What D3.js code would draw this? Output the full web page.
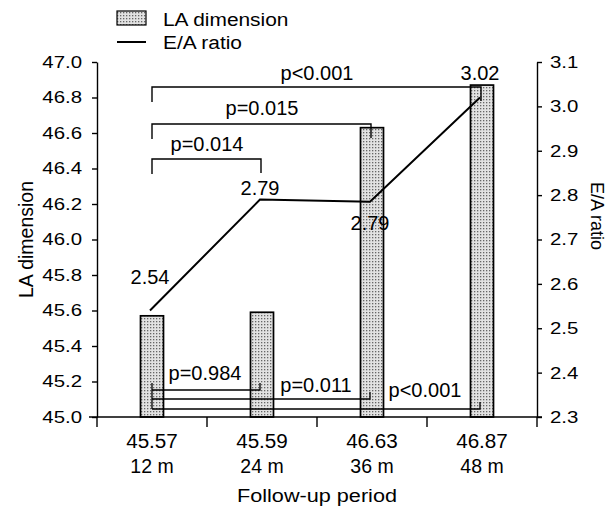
<!DOCTYPE html>
<html>
<head>
<meta charset="utf-8">
<script src="https://cdn.jsdelivr.net/npm/d3@7"></script>
<style>
  body { margin: 0; background: #fff; }
  text { font-family: "Liberation Sans", Arial, sans-serif; fill: #000; }
</style>
</head>
<body>
<svg id="chart" width="608" height="509"></svg>
<script>
// values
var categories = ["12 m", "24 m", "36 m", "48 m"];
var laDimension = [45.57, 45.59, 46.63, 46.87];
var eaRatio = [2.54, 2.79, 2.785, 3.02];
var eaLabels = ["2.54", "2.79", "2.79", "3.02"];
var leftTicks = [45.0, 45.2, 45.4, 45.6, 45.8, 46.0, 46.2, 46.4, 46.6, 46.8, 47.0];
var rightTicks = [2.3, 2.4, 2.5, 2.6, 2.7, 2.8, 2.9, 3.0, 3.1];
var topPairs = [[0, 1, "p=0.014"], [0, 2, "p=0.015"], [0, 3, "p<0.001"]];
var bottomPairs = [[0, 1, "p=0.984"], [0, 2, "p=0.011"], [0, 3, "p<0.001"]];

var svg = d3.select("#chart"),
    xLeft = 97, xRight = 537, yTop = 62, yBot = 417;

var x = d3.scaleBand().domain(categories).range([xLeft, xRight]);
var yL = d3.scaleLinear().domain([45, 47]).range([yBot, yTop]);
var yR = d3.scaleLinear().domain([2.3, 3.1]).range([yBot, yTop]);

// stretch text horizontally, the scan is a bit wide
function stretch(sel, k) {
  sel.each(function() {
    var t = d3.select(this);
    var tx = +t.attr("x") || 0;
    t.attr("x", tx / k).attr("transform", "scale(" + k + ",1)");
  });
}

// stipple pattern for the bars
var defs = svg.append("defs");
var pat = defs.append("pattern")
    .attr("id", "stipple")
    .attr("width", 3).attr("height", 3)
    .attr("patternUnits", "userSpaceOnUse");
pat.append("rect").attr("width", 3).attr("height", 3).attr("fill", "#e2e2e2");
pat.append("rect").attr("width", 1.3).attr("height", 1.3).attr("fill", "#666");

function cx(i) { return x(categories[i]) + x.bandwidth() / 2; }

var barW = 23;
svg.append("g").selectAll("rect")
    .data(laDimension)
    .enter().append("rect")
    .attr("x", function(d, i) { return cx(i) - barW / 2; })
    .attr("y", function(d) { return yL(d); })
    .attr("width", barW)
    .attr("height", function(d) { return yL(45) - yL(d); })
    .attr("fill", "url(#stipple)")
    .attr("stroke", "#000")
    .attr("stroke-width", 1.7);

// brackets on top
var topY = [159, 124, 87];
var g = svg.append("g").attr("fill", "none").attr("stroke", "#000").attr("stroke-width", 1.4);
topPairs.forEach(function(p, k) {
  var x0 = cx(p[0]), x1 = cx(p[1]) - 1, yy = topY[k];
  g.append("path").attr("d", "M" + x0 + "," + (yy + 15) + "V" + yy + "H" + x1 + "V" + (yy + 14));
});
var topLab = [[207, 151], [262, 115], [317, 80]];
topPairs.forEach(function(p, k) {
  svg.append("text").attr("x", topLab[k][0]).attr("y", topLab[k][1])
     .attr("text-anchor", "middle").attr("font-size", 20).text(p[2]);
});

// brackets at the bottom
var botY = [390, 399, 409];
var gb = svg.append("g").attr("fill", "none").attr("stroke", "#000").attr("stroke-width", 1.3);
gb.append("path").attr("d", "M" + cx(0) + "," + 383 + "V" + botY[2]);
bottomPairs.forEach(function(p, k) {
  var x0 = cx(p[0]), x1 = cx(p[1]) - 2, yy = botY[k];
  gb.append("path").attr("d", "M" + x0 + "," + yy + "H" + x1 + "V" + (yy - 7));
});
var botLab = [[205, 380], [316, 392], [425, 397]];
bottomPairs.forEach(function(p, k) {
  svg.append("text").attr("x", botLab[k][0]).attr("y", botLab[k][1])
     .attr("text-anchor", "middle").attr("font-size", 20).text(p[2]);
});

// E/A ratio line
var line = d3.line()
    .x(function(d, i) { return cx(i) - 2; })
    .y(function(d) { return yR(d); });
svg.append("path").datum(eaRatio)
    .attr("d", line)
    .attr("fill", "none").attr("stroke", "#000").attr("stroke-width", 2);

var labOff = [-27, -5, 28, -18];
svg.append("g").selectAll("text")
    .data(eaRatio)
    .enter().append("text")
    .attr("x", function(d, i) { return cx(i) - 2; })
    .attr("y", function(d, i) { return yR(d) + labOff[i]; })
    .attr("text-anchor", "middle").attr("font-size", 20)
    .text(function(d, i) { return eaLabels[i]; });

// left axis
var axL = svg.append("g").attr("transform", "translate(" + xLeft + ",0)")
    .call(d3.axisLeft(yL).tickValues(leftTicks).tickFormat(d3.format(".1f"))
          .tickSize(5).tickSizeOuter(0).tickPadding(10));
axL.selectAll("text").attr("font-size", 17).attr("font-family", null).call(stretch, 1.2);
axL.selectAll("line, path").attr("stroke-width", 1.4);

// right axis
var axR = svg.append("g").attr("transform", "translate(" + xRight + ",0)")
    .call(d3.axisRight(yR).tickValues(rightTicks).tickFormat(d3.format(".1f"))
          .tickSize(5).tickSizeOuter(0).tickPadding(8));
axR.selectAll("text").attr("font-size", 17).attr("font-family", null).call(stretch, 1.2);
axR.selectAll("line, path").attr("stroke-width", 1.4);

// bottom axis: line and ticks between categories
var bounds = [xLeft].concat(categories.map(function(c) { return x(c) + x.step(); }));
var axB = svg.append("g").attr("stroke", "#000").attr("stroke-width", 1.4);
axB.append("line").attr("x1", xLeft - 8).attr("x2", xRight + 5).attr("y1", yBot).attr("y2", yBot);
axB.selectAll(".tk").data(bounds).enter().append("line")
    .attr("x1", function(d) { return d; }).attr("x2", function(d) { return d; })
    .attr("y1", yBot).attr("y2", yBot + 10);

svg.append("g").selectAll("text")
    .data(laDimension)
    .enter().append("text")
    .attr("x", function(d, i) { return cx(i); })
    .attr("y", 448)
    .attr("font-size", 19.5)
    .attr("text-anchor", "middle")
    .text(function(d) { return d.toFixed(2); })
    .call(stretch, 1.06);
svg.append("g").selectAll("text")
    .data(categories)
    .enter().append("text")
    .attr("x", function(d) { return x(d) + x.bandwidth() / 2; })
    .attr("y", 473)
    .attr("font-size", 19.5)
    .attr("text-anchor", "middle")
    .text(function(d) { return d; })
    .call(stretch, 1.0);

svg.append("text").attr("x", (xLeft + xRight) / 2).attr("y", 502)
    .attr("text-anchor", "middle").attr("font-size", 19).text("Follow-up period")
    .call(stretch, 1.14);

svg.append("text").attr("transform", "translate(33," + ((yTop + yBot) / 2) + ") rotate(-90)")
    .attr("text-anchor", "middle").attr("font-size", 19.5).text("LA dimension");
svg.append("text").attr("transform", "translate(591,216) rotate(90)")
    .attr("text-anchor", "middle").attr("font-size", 18).text("E/A ratio");

// legend
var lg = svg.append("g");
lg.append("rect").attr("x", 117).attr("y", 11).attr("width", 29).attr("height", 14)
  .attr("fill", "url(#stipple)").attr("stroke", "#000").attr("stroke-width", 1.2);
lg.append("line").attr("x1", 117).attr("x2", 146).attr("y1", 42).attr("y2", 42)
  .attr("stroke", "#000").attr("stroke-width", 2);
lg.append("text").attr("x", 163).attr("y", 26).attr("font-size", 19).text("LA dimension").call(stretch, 1.1);
lg.append("text").attr("x", 163).attr("y", 49).attr("font-size", 19).text("E/A ratio").call(stretch, 1.1);
</script>
</body>
</html>
